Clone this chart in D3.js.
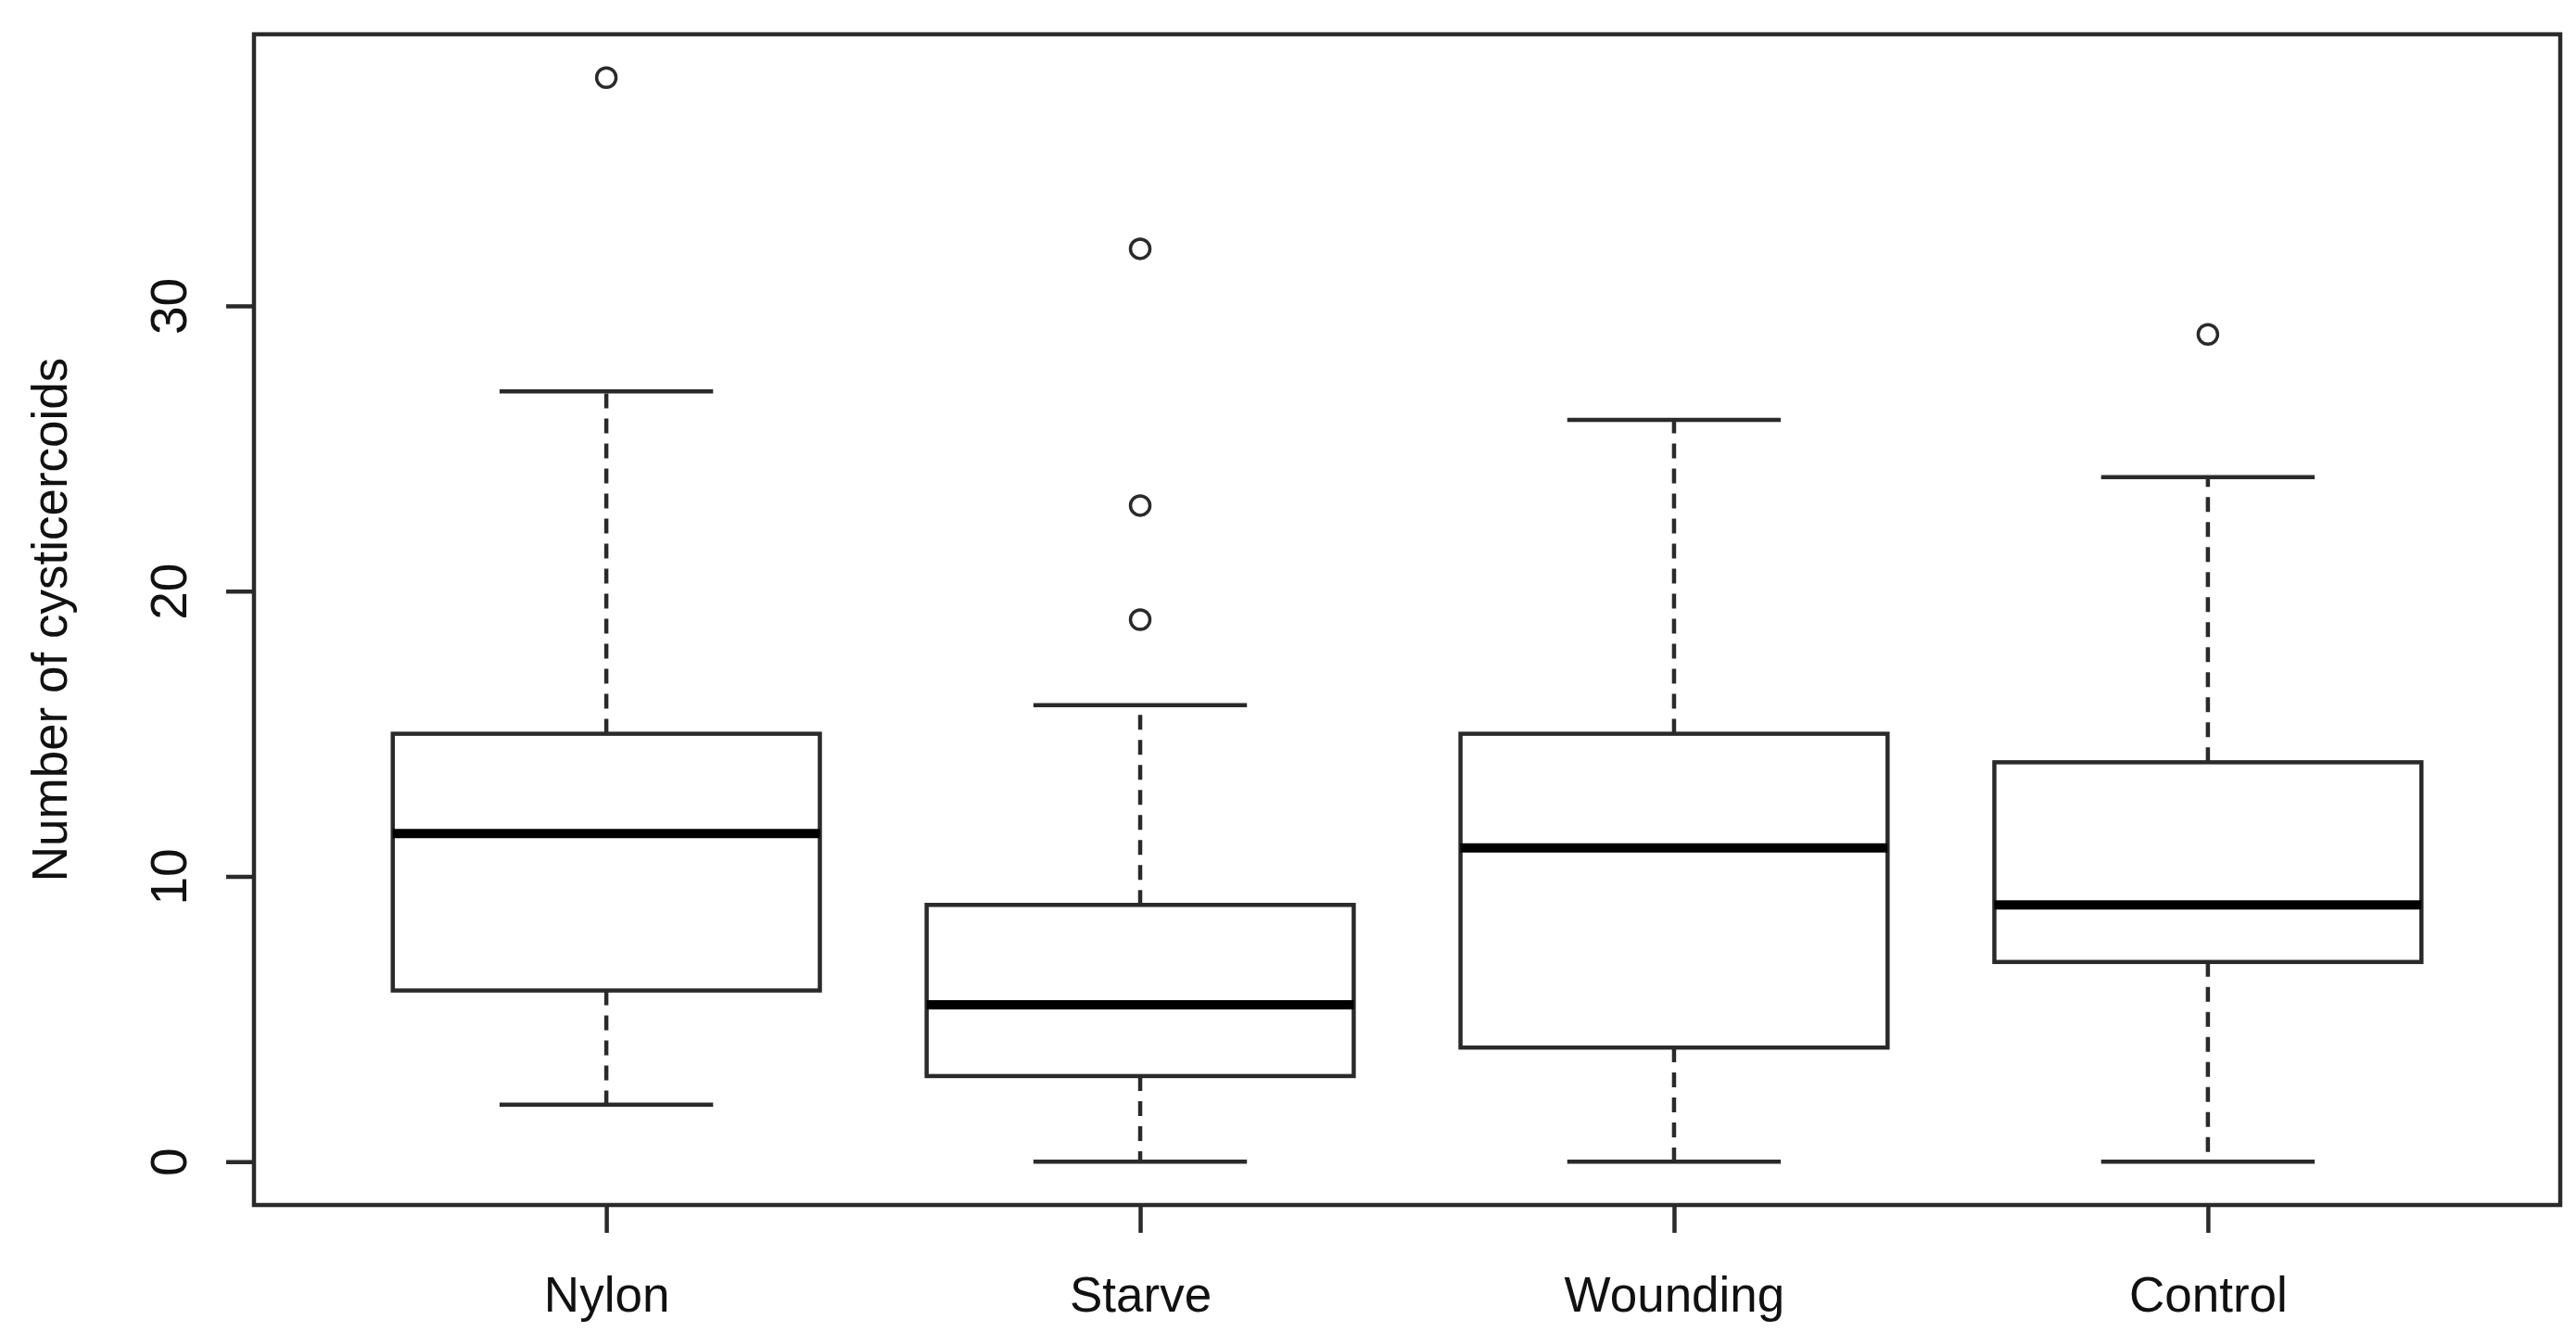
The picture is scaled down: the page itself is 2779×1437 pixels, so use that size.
<!DOCTYPE html>
<html>
<head>
<meta charset="utf-8">
<script src="https://cdn.jsdelivr.net/npm/d3@7"></script>
<style>
  body { margin: 0; background: #fff; }
  text { font-family: "Liberation Sans", Arial, sans-serif; fill: #111; }
</style>
</head>
<body>
<div id="chart"></div>
<script>
// values
const groups = ["Nylon", "Starve", "Wounding", "Control"];
const lowWhisker = [2, 0, 0, 0];
const q1 = [6, 3, 4, 7];
const medians = [11.5, 5.5, 11, 9];
const q3 = [15, 9, 15, 14];
const highWhisker = [27, 16, 26, 24];
const outliers = [[38], [32, 23, 19], [], [29]];
const yTicks = [0, 10, 20, 30];

const W = 2779, H = 1437;
const plot = {left: 274, right: 2762, top: 37, bottom: 1300};
const ink = "#2a2a2a";
const lw = 4.5;

const svg = d3.select("#chart")
  .append("svg")
    .attr("width", W)
    .attr("height", H)
    .style("display", "block");

svg.append("rect").attr("width", W).attr("height", H).attr("fill", "#fff");

// R style: boxes at 1..n, xlim c(0.5, n+0.5) padded 4%
const x = d3.scaleLinear()
  .domain([0.34, 4.66])
  .range([plot.left, plot.right]);

const y = d3.scaleLinear()
  .domain([-1.52, 39.52])
  .range([plot.bottom, plot.top]);

const unit = x(2) - x(1);
const boxW = 0.8 * unit, capW = 0.4 * unit;

// y axis
const yAxis = svg.append("g")
  .attr("transform", `translate(${plot.left},0)`)
  .call(d3.axisLeft(y).tickValues(yTicks).tickSize(30).tickFormat(d3.format("d")));
yAxis.select(".domain").remove();
yAxis.selectAll(".tick line").attr("stroke", ink).attr("stroke-width", lw);
yAxis.selectAll(".tick text")
  .attr("x", null).attr("dy", null)
  .attr("text-anchor", "middle")
  .attr("transform", "translate(-73,0) rotate(-90)")
  .style("font-size", "55px");

// x axis
const xAxis = svg.append("g")
  .attr("transform", `translate(0,${plot.bottom})`)
  .call(d3.axisBottom(x).tickValues([1, 2, 3, 4]).tickSize(30).tickFormat(d => groups[d - 1]));
xAxis.select(".domain").remove();
xAxis.selectAll(".tick line").attr("stroke", ink).attr("stroke-width", lw);
xAxis.selectAll(".tick text")
  .attr("y", 115).attr("dy", null)
  .style("font-size", "53px");

// y title
svg.append("text")
  .attr("transform", `translate(72,${(plot.top + plot.bottom) / 2}) rotate(-90)`)
  .attr("text-anchor", "middle")
  .style("font-size", "53px")
  .text("Number of cysticercoids");

const boxes = svg.append("g")
  .selectAll("g")
  .data(groups)
  .join("g")
    .attr("transform", (d, i) => `translate(${x(i + 1)},0)`);

// dashed whiskers
boxes.append("line")
  .attr("y1", (d, i) => y(q3[i])).attr("y2", (d, i) => y(highWhisker[i]))
  .attr("stroke", ink).attr("stroke-width", lw).attr("stroke-dasharray", "16,11");
boxes.append("line")
  .attr("y1", (d, i) => y(q1[i])).attr("y2", (d, i) => y(lowWhisker[i]))
  .attr("stroke", ink).attr("stroke-width", lw).attr("stroke-dasharray", "16,11");

// staples
boxes.append("line")
  .attr("x1", -capW / 2).attr("x2", capW / 2)
  .attr("y1", (d, i) => y(highWhisker[i])).attr("y2", (d, i) => y(highWhisker[i]))
  .attr("stroke", ink).attr("stroke-width", lw);
boxes.append("line")
  .attr("x1", -capW / 2).attr("x2", capW / 2)
  .attr("y1", (d, i) => y(lowWhisker[i])).attr("y2", (d, i) => y(lowWhisker[i]))
  .attr("stroke", ink).attr("stroke-width", lw);

// boxes
boxes.append("rect")
  .attr("x", -boxW / 2).attr("width", boxW)
  .attr("y", (d, i) => y(q3[i]))
  .attr("height", (d, i) => y(q1[i]) - y(q3[i]))
  .attr("fill", "#fff").attr("stroke", ink).attr("stroke-width", lw);

// medians
boxes.append("line")
  .attr("x1", -boxW / 2).attr("x2", boxW / 2)
  .attr("y1", (d, i) => y(medians[i])).attr("y2", (d, i) => y(medians[i]))
  .attr("stroke", "#000").attr("stroke-width", 10);

// outliers
boxes.selectAll("circle")
  .data((d, i) => outliers[i])
  .join("circle")
    .attr("cy", d => y(d))
    .attr("r", 10.5)
    .attr("fill", "none").attr("stroke", ink).attr("stroke-width", 3.5);

// frame
svg.append("rect")
  .attr("x", plot.left).attr("y", plot.top)
  .attr("width", plot.right - plot.left).attr("height", plot.bottom - plot.top)
  .attr("fill", "none").attr("stroke", ink).attr("stroke-width", lw);
</script>
</body>
</html>
